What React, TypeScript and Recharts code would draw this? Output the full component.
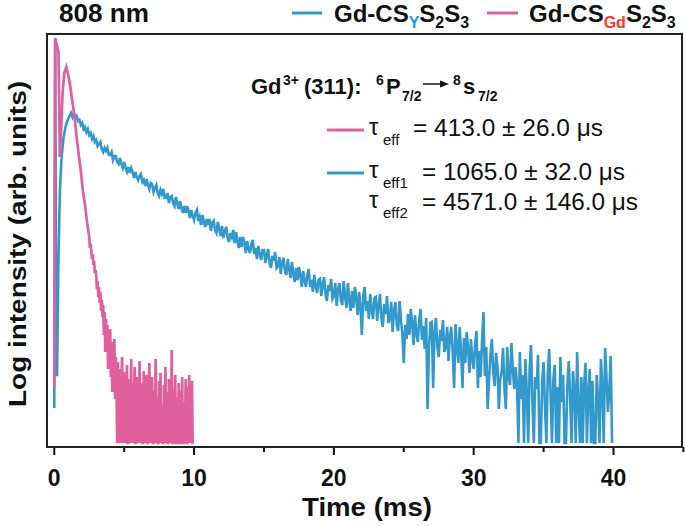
import React from 'react';
import { LineChart, Line, XAxis, YAxis } from 'recharts';

// Gd-CS_Y S2S3 (blue): time (ms)
const blueTime = [
  0, 0.07, 0.14, 0.2, 0.3, 0.4, 0.5, 0.65, 0.8, 0.9,
  1.0, 1.1, 1.2, 1.3, 1.4, 1.5, 1.6, 1.7, 1.8, 1.9,
  2.0, 2.1, 2.2, 2.3, 2.4, 2.5, 2.6, 2.7, 2.8, 2.9,
  3.0, 3.1, 3.2, 3.3, 3.4, 3.5, 3.6, 3.7, 3.8, 3.9,
  4.0, 4.1, 4.2, 4.3, 4.4, 4.5, 4.6, 4.7, 4.8, 4.9,
  5.0, 5.1, 5.2, 5.3, 5.4, 5.5, 5.6, 5.7, 5.8, 5.9,
  6.0, 6.1, 6.2, 6.3, 6.4, 6.5, 6.6, 6.7, 6.8, 6.9,
  7.0, 7.1, 7.2, 7.3, 7.4, 7.5, 7.6, 7.7, 7.8, 7.9,
  8.0, 8.1, 8.2, 8.3, 8.4, 8.5, 8.6, 8.7, 8.8, 8.9,
  9.0, 9.1, 9.2, 9.3, 9.4, 9.5, 9.6, 9.7, 9.8, 9.9,
  10.0, 10.1, 10.2, 10.3, 10.4, 10.5, 10.6, 10.7, 10.8, 10.9,
  11.0, 11.1, 11.2, 11.3, 11.4, 11.5, 11.6, 11.7, 11.8, 11.9,
  12.0, 12.1, 12.2, 12.3, 12.4, 12.5, 12.6, 12.7, 12.8, 12.9,
  13.0, 13.1, 13.2, 13.3, 13.4, 13.5, 13.6, 13.7, 13.8, 13.9,
  14.0, 14.1, 14.2, 14.3, 14.4, 14.5, 14.6, 14.7, 14.8, 14.9,
  15.0, 15.1, 15.2, 15.3, 15.4, 15.5, 15.6, 15.7, 15.8, 15.9,
  16.0, 16.1, 16.2, 16.3, 16.4, 16.5, 16.6, 16.7, 16.8, 16.9,
  17.0, 17.1, 17.2, 17.3, 17.4, 17.5, 17.6, 17.7, 17.8, 17.9,
  18.0, 18.1, 18.2, 18.3, 18.4, 18.5, 18.6, 18.7, 18.8, 18.9,
  19.0, 19.1, 19.2, 19.3, 19.4, 19.5, 19.6, 19.7, 19.8, 19.9,
  20.0, 20.1, 20.2, 20.3, 20.4, 20.5, 20.6, 20.7, 20.8, 20.9,
  21.0, 21.1, 21.2, 21.3, 21.4, 21.5, 21.6, 21.7, 21.8, 21.9,
  22.0, 22.1, 22.2, 22.3, 22.4, 22.5, 22.6, 22.7, 22.8, 22.9,
  23.0, 23.1, 23.2, 23.3, 23.4, 23.5, 23.6, 23.7, 23.8, 23.9,
  24.0, 24.1, 24.2, 24.3, 24.4, 24.5, 24.6, 24.7, 24.8, 24.9,
  25.0, 25.1, 25.2, 25.3, 25.4, 25.5, 25.6, 25.7, 25.8, 25.9,
  26.0, 26.1, 26.2, 26.3, 26.4, 26.5, 26.6, 26.7, 26.8, 26.9,
  27.0, 27.1, 27.2, 27.3, 27.4, 27.5, 27.6, 27.7, 27.8, 27.9,
  28.0, 28.1, 28.2, 28.3, 28.4, 28.5, 28.6, 28.7, 28.8, 28.9,
  29.0, 29.1, 29.2, 29.3, 29.4, 29.5, 29.6, 29.7, 29.8, 29.9,
  30.0, 30.1, 30.2, 30.3, 30.4, 30.5, 30.6, 30.7, 30.8, 30.9,
  31.0, 31.1, 31.2, 31.3, 31.4, 31.5, 31.6, 31.7, 31.8, 31.9,
  32.0, 32.1, 32.2, 32.3, 32.4, 32.5, 32.6, 32.7, 32.8, 32.9,
  33.0, 33.1, 33.2, 33.3, 33.4, 33.5, 33.6, 33.7, 33.8, 33.9,
  34.0, 34.1, 34.2, 34.3, 34.4, 34.5, 34.6, 34.7, 34.8, 34.9,
  35.0, 35.1, 35.2, 35.3, 35.4, 35.5, 35.6, 35.7, 35.8, 35.9,
  36.0, 36.1, 36.2, 36.3, 36.4, 36.5, 36.6, 36.7, 36.8, 36.9,
  37.0, 37.1, 37.2, 37.3, 37.4, 37.5, 37.6, 37.7, 37.8, 37.9,
  38.0, 38.1, 38.2, 38.3, 38.4, 38.5, 38.6, 38.7, 38.8, 38.9,
  39.0, 39.1, 39.2, 39.3, 39.4, 39.5, 39.6, 39.7, 39.8, 39.9,
];
// Gd-CS_Y S2S3 (blue): log intensity
const blueLog = [
  0.39, 4.09, 0.72, 0.72, 1.9, 2.55, 2.85, 3.08, 3.2, 3.25,
  3.28, 3.31, 3.34, 3.3, 3.34, 3.29, 3.31, 3.26, 3.27, 3.22,
  3.24, 3.18, 3.2, 3.15, 3.18, 3.12, 3.14, 3.08, 3.11, 3.05,
  3.07, 3.01, 3.03, 3.05, 2.98, 2.95, 2.99, 2.96, 2.99, 2.92,
  2.92, 2.95, 2.87, 2.91, 2.91, 2.85, 2.83, 2.89, 2.83, 2.79,
  2.85, 2.79, 2.75, 2.8, 2.74, 2.79, 2.75, 2.69, 2.75, 2.7,
  2.67, 2.71, 2.73, 2.65, 2.67, 2.61, 2.68, 2.62, 2.58, 2.64,
  2.63, 2.55, 2.59, 2.62, 2.54, 2.51, 2.57, 2.53, 2.58, 2.49,
  2.49, 2.54, 2.44, 2.5, 2.51, 2.44, 2.41, 2.5, 2.43, 2.38,
  2.46, 2.39, 2.34, 2.41, 2.34, 2.41, 2.36, 2.29, 2.37, 2.31,
  2.27, 2.34, 2.37, 2.26, 2.3, 2.22, 2.32, 2.25, 2.2, 2.28,
  2.22, 2.28, 2.16, 2.24, 2.26, 2.17, 2.14, 2.25, 2.18, 2.11,
  2.21, 2.09, 2.16, 2.2, 2.09, 2.05, 2.14, 2.1, 2.17, 2.04,
  2.15, 2.06, 1.99, 2.1, 2.0, 2.1, 2.04, 1.94, 2.06, 1.98,
  1.94, 2.03, 2.07, 1.93, 1.99, 1.88, 2.01, 1.93, 1.87, 1.97,
  1.97, 1.84, 1.92, 1.98, 1.84, 1.79, 1.91, 1.86, 1.95, 1.79,
  1.81, 1.9, 1.73, 1.85, 1.89, 1.76, 1.72, 1.88, 1.78, 1.69,
  1.85, 1.73, 1.65, 1.79, 1.67, 1.8, 1.72, 1.6, 1.76, 1.66,
  1.6, 1.72, 1.78, 1.6, 1.67, 1.55, 1.72, 1.61, 1.54, 1.67,
  1.68, 1.51, 1.62, 1.7, 1.53, 1.46, 1.62, 1.56, 1.68, 1.48,
  1.51, 1.64, 1.41, 1.58, 1.64, 1.47, 1.42, 1.66, 1.51, 1.39,
  1.64, 1.47, 1.36, 1.56, 1.39, 1.6, 1.49, 1.32, 1.55, 1.41,
  1.12, 1.51, 1.6, 1.36, 1.46, 1.28, 1.53, 1.38, 1.28, 1.49,
  1.5, 1.26, 1.42, 1.53, 1.29, 1.2, 1.43, 1.33, 1.51, 1.24,
  1.28, 1.45, 1.15, 1.36, 1.45, 1.22, 1.16, 1.46, 1.27, 1.12,
  0.84, 1.22, 1.08, 1.33, 1.12, 1.38, 1.24, 1.02, 1.32, 1.14,
  1.05, 1.26, 1.38, 1.07, 1.21, 0.98, 1.29, 0.38, 0.98, 1.24,
  1.25, 0.59, 1.16, 1.29, 1.0, 0.9, 1.17, 1.06, 1.27, 0.95,
  1.0, 1.2, 0.86, 1.11, 1.2, 0.95, 0.59, 1.23, 1.01, 0.84,
  1.2, 0.95, 0.59, 1.09, 0.84, 1.15, 0.99, 0.74, 1.08, 0.88,
  0.78, 1.03, 1.16, 0.59, 0.96, 0.7, 1.07, 1.35, 0.71, 1.0,
  0.38, 0.68, 0.92, 1.08, 0.74, 0.61, 0.94, 0.81, 0.38, 0.68,
  0.75, 0.99, 0.59, 0.38, 1.0, 0.7, 0.62, 1.04, 0.78, 0.58,
  0.8, 0.62, 0.04, 0.95, 0.48, 0.72, 0.04, 0.88, 0.55, 0.04,
  0.78, 1.02, 0.46, 0.04, 0.7, 0.58, 0.92, 0.04, 0.04, 0.66,
  0.85, 0.4, 0.04, 0.74, 0.98, 0.52, 0.04, 0.68, 0.82, 0.04,
  0.6, 0.04, 0.9, 0.45, 0.72, 0.04, 0.04, 0.62, 0.86, 0.5,
  0.04, 0.76, 0.58, 0.04, 0.95, 0.42, 0.04, 0.7, 0.04, 0.62,
  0.84, 0.04, 0.55, 0.78, 0.04, 0.66, 0.04, 0.04, 0.72, 0.48,
  0.04, 0.88, 0.6, 0.04, 0.99, 0.7, 0.35, 0.55, 0.91, 0.04,
];

// Gd-CS_Gd S2S3 (pink): time (ms)
const pinkTime = [
  0, 0.06, 0.18, 0.3, 0.4, 0.5, 0.6, 0.72, 0.86, 1.0,
  1.15, 1.3, 1.45, 1.6, 1.75, 1.9, 2.05, 2.2, 2.35,
  2.5, 2.55, 2.6, 2.65, 2.7, 2.75, 2.8, 2.85, 2.9, 2.95,
  3.0, 3.05, 3.1, 3.15, 3.2, 3.25, 3.3, 3.35, 3.4, 3.45,
  3.5, 3.55, 3.6, 3.65, 3.7, 3.75, 3.8, 3.85, 3.9, 3.95,
  4.0, 4.05, 4.1, 4.15, 4.2, 4.25, 4.3, 4.35, 4.4, 4.45,
  4.5, 4.55, 4.6, 4.65, 4.7, 4.75, 4.8, 4.85, 4.9, 4.95,
  5.0, 5.05, 5.1, 5.15, 5.2, 5.25, 5.3, 5.35, 5.4, 5.45,
  5.5, 5.55, 5.6, 5.65, 5.7, 5.75, 5.8, 5.85, 5.9, 5.95,
  6.0, 6.05, 6.1, 6.15, 6.2, 6.25, 6.3, 6.35, 6.4, 6.45,
  6.5, 6.55, 6.6, 6.65, 6.7, 6.75, 6.8, 6.85, 6.9, 6.95,
  7.0, 7.05, 7.1, 7.15, 7.2, 7.25, 7.3, 7.35, 7.4, 7.45,
  7.5, 7.55, 7.6, 7.65, 7.7, 7.75, 7.8, 7.85, 7.9, 7.95,
  8.0, 8.05, 8.1, 8.15, 8.2, 8.25, 8.3, 8.35, 8.4, 8.45,
  8.5, 8.55, 8.6, 8.65, 8.7, 8.75, 8.8, 8.85, 8.9, 8.95,
  9.0, 9.05, 9.1, 9.15, 9.2, 9.25, 9.3, 9.35, 9.4, 9.45,
  9.5, 9.55, 9.6, 9.65, 9.7, 9.75, 9.8, 9.85, 9.9, 9.95,
];
// Gd-CS_Gd S2S3 (pink): log intensity
const pinkLog = [
  0.59, 4.09, 4.02, 3.95, 2.9, 3.2, 3.55, 3.74, 3.8, 3.72,
  3.6, 3.45, 3.3, 3.1, 2.92, 2.76, 2.56, 2.42, 2.24,
  2.1, 1.99, 2.03, 1.96, 1.88, 1.93, 1.82, 1.86, 1.74, 1.77,
  1.72, 1.58, 1.66, 1.5, 1.6, 1.44, 1.55, 1.36, 1.47, 1.3,
  1.42, 1.12, 1.35, 0.95, 1.28, 1.05, 1.22, 0.78, 1.15, 0.92,
  1.18, 0.7, 1.05, 0.55, 0.98, 0.8, 1.08, 0.48, 0.9, 0.62,
  0.04, 0.85, 0.52, 0.04, 0.78, 0.04, 0.66, 0.9, 0.04, 0.58,
  0.04, 0.75, 0.42, 0.04, 0.82, 0.04, 0.04, 0.68, 0.55, 0.04,
  0.88, 0.04, 0.62, 0.04, 0.48, 0.8, 0.04, 0.04, 0.7, 0.04,
  0.58, 0.04, 0.86, 0.45, 0.04, 0.64, 0.04, 0.04, 0.76, 0.04,
  0.52, 0.04, 0.72, 0.04, 0.04, 0.6, 0.84, 0.04, 0.48, 0.04,
  0.7, 0.04, 0.04, 0.56, 0.04, 0.88, 0.04, 0.5, 0.04, 0.04,
  0.66, 0.04, 0.74, 0.04, 0.42, 0.04, 0.04, 0.62, 0.04, 0.8,
  0.04, 0.55, 0.04, 0.04, 0.68, 0.04, 0.46, 0.04, 0.97, 0.04,
  0.04, 0.58, 0.04, 0.72, 0.04, 0.04, 0.5, 0.04, 0.64, 0.04,
  0.04, 0.56, 0.04, 0.7, 0.04, 0.04, 0.45, 0.04, 0.68, 0.04,
  0.04, 0.6, 0.04, 0.72, 0.04, 0.52, 0.04, 0.66, 0.04, 0.04,
];

const xTicks = [0, 5, 10, 15, 20, 25, 30, 35, 40, 45];
const xTickLabels = ['0', '', '10', '', '20', '', '30', '', '40', ''];

const BLUE = '#3399cc';
const PINK = '#e0609e';
const FONT = '"Liberation Sans", Arial, Helvetica, sans-serif';
const INK = '#111';

const blueData = blueTime.map((t, i) => ({ t, v: blueLog[i] }));
const pinkData = pinkTime.map((t, i) => ({ t, v: pinkLog[i] }));

const Tick = (props: any) => {
  const { x, y, index } = props;
  const label = xTickLabels[index] ?? '';
  const major = label !== '';
  return (
    <g>
      <line x1={x} x2={x} y1={y} y2={y + (major ? 8 : 5)} stroke={INK} strokeWidth={2} />
      {major && (
        <text x={x} y={y + 39} textAnchor="middle" fontSize={23} fontWeight="bold" fontFamily={FONT} fill={INK}>
          {label}
        </text>
      )}
    </g>
  );
};

export default function App() {
  return (
    <div style={{ position: 'absolute', left: 0, top: 0, width: 685, height: 526, background: '#fff' }}>
      <LineChart width={685} height={526} data={blueData} margin={{ top: 34, right: 3, left: 47, bottom: 0 }}>
        <XAxis
          type="number"
          dataKey="t"
          domain={[-0.52, 44.9]}
          ticks={xTicks}
          interval={0}
          allowDataOverflow
          tick={<Tick />}
          tickLine={false}
          axisLine={false}
          tickSize={0}
          tickMargin={0}
          height={79}
        />
        <YAxis type="number" dataKey="v" domain={[0, 4.13]} hide allowDataOverflow />
        <Line data={blueData} dataKey="v" type="linear" stroke={BLUE} strokeWidth={2.6} dot={false} isAnimationActive={false} />
        <Line data={pinkData} dataKey="v" type="linear" stroke={PINK} strokeWidth={2.7} dot={false} isAnimationActive={false} />
      </LineChart>
      <svg width={685} height={526} style={{ position: 'absolute', left: 0, top: 0, pointerEvents: 'none' }} fontFamily={FONT}>
        <rect x={47} y={34} width={635} height={413} fill="none" stroke="#222" strokeWidth={2} />
        <text x={59} y={22} fontSize={25} fontWeight="bold" fill={INK} textLength={90} lengthAdjust="spacingAndGlyphs">808 nm</text>
        {/* legend */}
        <line x1={292} x2={322} y1={13} y2={13} stroke={BLUE} strokeWidth={3} />
        <text x={334} y={22} fontSize={24} fontWeight="bold" fill={INK}>
          Gd-CS<tspan fontSize={16} dy={6} fill="#1e9be0">Y</tspan><tspan dy={-6}>S</tspan><tspan fontSize={16} dy={6}>2</tspan><tspan dy={-6}>S</tspan><tspan fontSize={16} dy={6}>3</tspan>
        </text>
        <line x1={487} x2={518} y1={13} y2={13} stroke={PINK} strokeWidth={3} />
        <text x={529} y={22} fontSize={24} fontWeight="bold" fill={INK}>
          Gd-CS<tspan fontSize={16} dy={6} fill="#f03c2a">Gd</tspan><tspan dy={-6}>S</tspan><tspan fontSize={16} dy={6}>2</tspan><tspan dy={-6}>S</tspan><tspan fontSize={16} dy={6}>3</tspan>
        </text>
        {/* annotation */}
        <text x={251} y={94} fontSize={22} fontWeight="bold" fill={INK}>Gd</text>
        <text x={283} y={85} fontSize={14} fontWeight="bold" fill={INK}>3+</text>
        <text x={304} y={94} fontSize={22} fontWeight="bold" fill={INK}>(311):</text>
        <text x={376} y={85} fontSize={14} fontWeight="bold" fill={INK}>6</text>
        <text x={386} y={94} fontSize={22} fontWeight="bold" fill={INK}>P</text>
        <text x={402} y={101} fontSize={14} fontWeight="bold" fill={INK}>7/2</text>
        <line x1={423} x2={442} y1={84} y2={84} stroke={INK} strokeWidth={1.5} />
        <polygon points="449,84 440,80.5 440,87.5" fill={INK} />
        <text x={453} y={85} fontSize={14} fontWeight="bold" fill={INK}>8</text>
        <text x={463} y={94} fontSize={22} fontWeight="bold" fill={INK}>s</text>
        <text x={478} y={101} fontSize={14} fontWeight="bold" fill={INK}>7/2</text>
        <line x1={327} x2={364} y1={130} y2={130} stroke={PINK} strokeWidth={3} />
        <text x={369} y={135} fontSize={24} fill={INK}>τ</text>
        <text x={383} y={145} fontSize={15} fill={INK}>eff</text>
        <text x={413} y={136} fontSize={24} fill={INK} textLength={190} lengthAdjust="spacingAndGlyphs">= 413.0 ± 26.0 μs</text>
        <line x1={327} x2={364} y1={173} y2={173} stroke={BLUE} strokeWidth={3} />
        <text x={369} y={178} fontSize={24} fill={INK}>τ</text>
        <text x={383} y={188} fontSize={15} fill={INK}>eff1</text>
        <text x={422} y={180} fontSize={24} fill={INK} textLength={203} lengthAdjust="spacingAndGlyphs">= 1065.0 ± 32.0 μs</text>
        <text x={369} y={208} fontSize={24} fill={INK}>τ</text>
        <text x={383} y={218} fontSize={15} fill={INK}>eff2</text>
        <text x={422} y={210} fontSize={24} fill={INK} textLength={216} lengthAdjust="spacingAndGlyphs">= 4571.0 ± 146.0 μs</text>
        {/* axis titles */}
        <text x={367} y={516} textAnchor="middle" fontSize={26} fontWeight="bold" fill={INK} textLength={130} lengthAdjust="spacingAndGlyphs">Time (ms)</text>
        <text transform="translate(26,244) rotate(-90)" textAnchor="middle" fontSize={24} fontWeight="bold" fill={INK} textLength={326} lengthAdjust="spacingAndGlyphs">
          Log intensity (arb. units)
        </text>
      </svg>
    </div>
  );
}
